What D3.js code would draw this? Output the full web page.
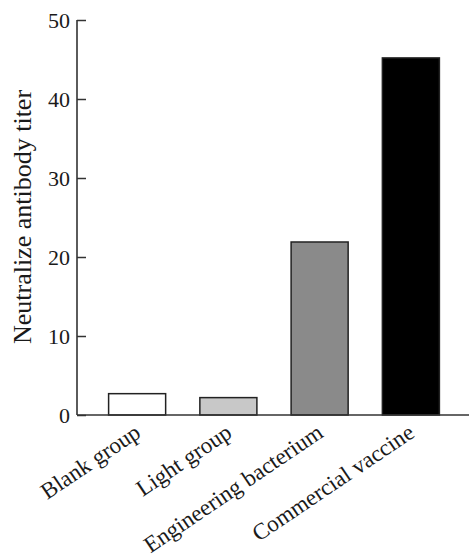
<!DOCTYPE html>
<html lang="en">
<head>
  <meta charset="UTF-8" />
  <title>Neutralize antibody titer</title>
  <script src="https://d3js.org/d3.v7.min.js"></script>
  <style>
    html, body {
      margin: 0;
      padding: 0;
      background: #fff;
    }
    svg text {
      font-family: "Liberation Serif", "Times New Roman", serif;
      fill: #1a1a1a;
    }
  </style>
</head>
<body>
  <svg id="chart" width="469" height="557"></svg>

  <script>
    const groups = ["Blank group", "Light group", "Engineering bacterium", "Commercial vaccine"];
    const titers = [2.7, 2.2, 21.9, 45.2];
    const barColors = ["#ffffff", "#c8c8c8", "#8a8a8a", "#000000"];
    const yTicks = [0, 10, 20, 30, 40, 50];

    const svg = d3.select("#chart");
    const x0 = 77, x1 = 469, yTop = 20, yBase = 415;

    const x = d3.scaleBand()
      .domain(groups)
      .range([91.5, 456.5])
      .paddingInner(0.375)
      .paddingOuter(0.1875);

    const y = d3.scaleLinear()
      .domain([0, 50])
      .range([yBase, yTop]);

    // bars
    svg.append("g")
      .selectAll("rect")
      .data(groups)
      .join("rect")
      .attr("x", d => x(d))
      .attr("width", x.bandwidth())
      .attr("y", (d, i) => y(titers[i]))
      .attr("height", (d, i) => yBase - y(titers[i]))
      .attr("fill", (d, i) => barColors[i])
      .attr("stroke", "#222")
      .attr("stroke-width", 1.5);

    // y axis with inward ticks
    const yAxis = svg.append("g")
      .attr("transform", `translate(${x0},0)`)
      .call(d3.axisRight(y).tickValues(yTicks).tickSize(9).tickFormat(""));
    yAxis.select(".domain").remove();
    yAxis.selectAll(".tick line").attr("stroke", "#333").attr("stroke-width", 1.5);

    svg.append("line")
      .attr("x1", x0).attr("x2", x0)
      .attr("y1", yTop).attr("y2", yBase)
      .attr("stroke", "#333").attr("stroke-width", 1.6);

    svg.append("g")
      .selectAll("text")
      .data(yTicks)
      .join("text")
      .attr("x", x0 - 7)
      .attr("y", d => y(d))
      .attr("dy", "0.35em")
      .attr("text-anchor", "end")
      .attr("font-size", "22px")
      .text(d => d);

    // x axis baseline
    svg.append("line")
      .attr("x1", x0).attr("x2", x1)
      .attr("y1", yBase).attr("y2", yBase)
      .attr("stroke", "#333").attr("stroke-width", 1.6);

    // rotated category labels
    svg.append("g")
      .selectAll("text")
      .data(groups)
      .join("text")
      .attr("transform", d => `translate(${x(d) + x.bandwidth() / 2 + 5},${yBase + 21}) rotate(-34)`)
      .attr("text-anchor", "end")
      .attr("font-size", "23px")
      .text(d => d);

    // y axis title
    svg.append("text")
      .attr("transform", `translate(31,217) rotate(-90)`)
      .attr("text-anchor", "middle")
      .attr("font-size", "26px")
      .text("Neutralize antibody titer");
  </script>
</body>
</html>
